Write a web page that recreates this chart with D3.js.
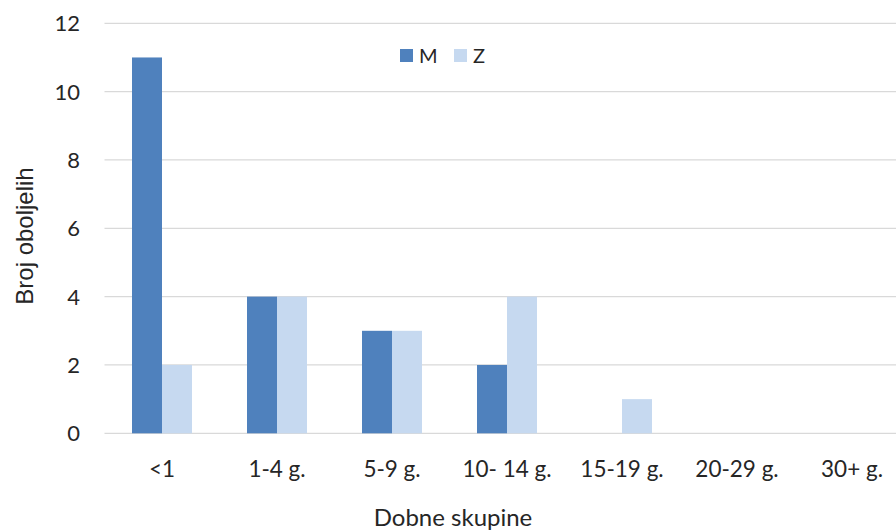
<!DOCTYPE html>
<html><head><meta charset="utf-8">
<script src="https://cdn.jsdelivr.net/npm/d3@7"></script>
<style>body{margin:0;background:#fff}svg{display:block}text{font-family:Lato,"Open Sans",sans-serif;fill:#262626}</style>
</head><body><svg id="c" width="896" height="531"></svg>
<script>
const categories = ["<1","1-4 g.","5-9 g.","10- 14 g.","15-19 g.","20-29 g.","30+ g."];
const seriesNames = ["M","Z"];
const valuesM = [11,4,3,2,0,0,0];
const valuesZ = [2,4,3,4,1,0,0];
const yTicks = [0,2,4,6,8,10,12];
const colors = ["#4F81BD","#C6D9F0"];

const svg = d3.select("#c");
const x = d3.scaleBand().domain(categories).range([104.5, 909.5]).padding(0);
const y = d3.scaleLinear().domain([0,12]).range([433.3, 23.3]);
const barW = 30;

// gridlines
svg.append("g").selectAll("line").data(yTicks).join("line")
  .attr("x1",104.5).attr("x2",896).attr("y1",d=>y(d)).attr("y2",d=>y(d))
  .attr("stroke","#D9D9D9").attr("stroke-width",1.3);

// y tick labels
svg.append("g").selectAll("text").data(yTicks).join("text")
  .attr("x",80).attr("y",d=>y(d)).attr("dy","0.36em").attr("text-anchor","end")
  .style("font-size","22px").text(d=>d);

const series = [valuesM, valuesZ];
series.forEach((vals,si)=>{
  svg.append("g").selectAll("rect").data(vals.map((v,i)=>({v,c:categories[i]}))).join("rect")
    .attr("x",d=>x(d.c)+x.bandwidth()/2 - barW + si*barW)
    .attr("width",barW)
    .attr("y",d=>y(d.v)).attr("height",d=>y(0)-y(d.v))
    .attr("fill",colors[si]);
});

// x tick labels
svg.append("g").selectAll("text").data(categories).join("text")
  .attr("x",d=>x(d)+x.bandwidth()/2).attr("y",477).attr("text-anchor","middle")
  .style("font-size","22.5px").text(d=>d);

// axis titles
svg.append("text").attr("x",453).attr("y",526).attr("text-anchor","middle")
  .style("font-size","24px").text("Dobne skupine");
svg.append("text").attr("transform","translate(33,236) rotate(-90)").attr("text-anchor","middle")
  .style("font-family","'Liberation Sans',Arial,sans-serif").style("font-size","24px").text("Broj oboljelih");

// legend
const leg = svg.append("g");
const legX = [400, 454];
seriesNames.forEach((n,i)=>{
  leg.append("rect").attr("x",legX[i]).attr("y",49).attr("width",13).attr("height",13).attr("fill",colors[i]);
  leg.append("text").attr("x",legX[i]+19).attr("y",62.5).style("font-size","20px").text(n);
});
</script></body></html>
